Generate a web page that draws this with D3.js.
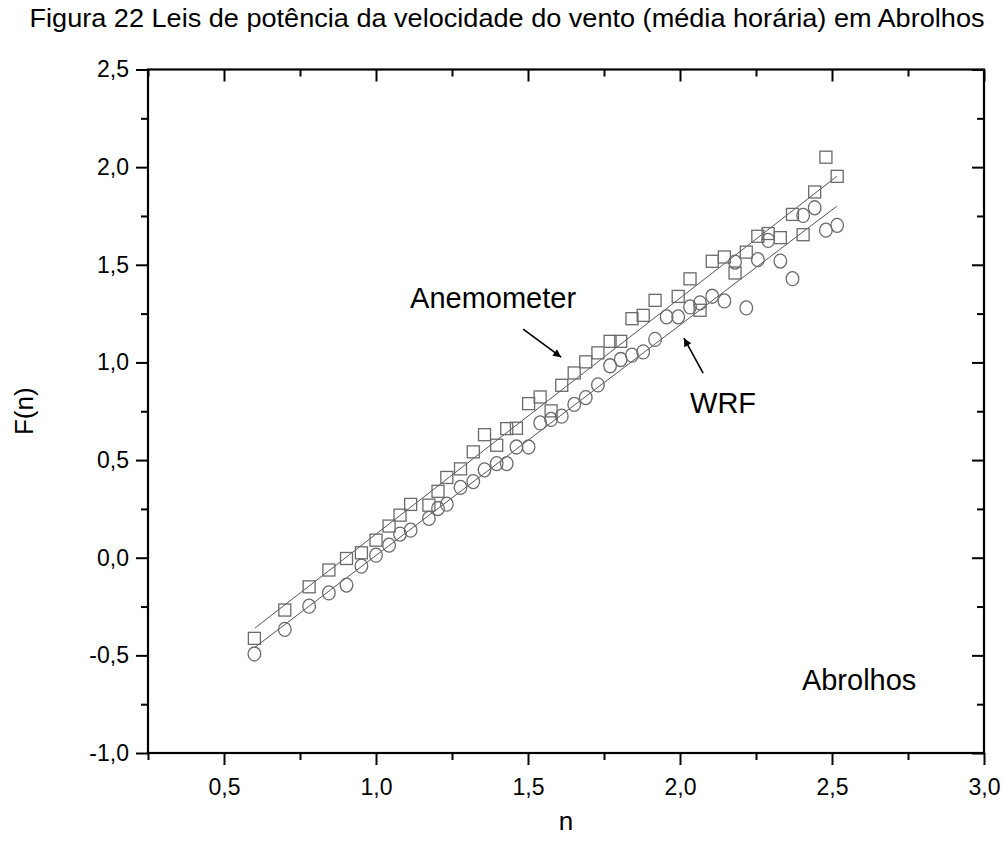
<!DOCTYPE html>
<meta charset="utf-8">
<script src="https://d3js.org/d3.v7.min.js"></script>
<body>
<style>
  html, body { margin: 0; background: white; }
  text { font-family: "Liberation Sans", Arial, sans-serif; fill: #000; }
</style>
<svg width="1003" height="852"></svg>
<script>
// n values (log scale) shared by both series
var nValues = [0.60, 0.70, 0.78, 0.845, 0.903, 0.952, 1.00, 1.043, 1.079, 1.114, 1.174, 1.204, 1.233, 1.278,
  1.32, 1.357, 1.397, 1.43, 1.462, 1.502, 1.54, 1.576, 1.611, 1.652, 1.69, 1.73, 1.77, 1.805, 1.842, 1.879,
  1.918, 1.956, 1.994, 2.033, 2.066, 2.106, 2.146, 2.181, 2.218, 2.256, 2.29, 2.33, 2.37, 2.405, 2.443, 2.48, 2.517];

// Anemometer F(n) (null = no point)
var anemometer = [-0.413, -0.268, -0.149, -0.063, -0.004, 0.025, 0.09, 0.162, 0.218, 0.273, 0.269, 0.34, 0.411, 0.455,
  0.542, 0.63, 0.576, 0.661, 0.663, 0.789, 0.823, 0.752, 0.883, 0.946, 1.003, 1.049, 1.108, 1.108, 1.224, 1.241,
  1.318, null, 1.338, 1.428, 1.267, 1.518, 1.54, 1.458, 1.565, 1.646, 1.66, 1.639, 1.758, 1.654, 1.873, 2.051, 1.953];

// WRF F(n)
var wrf = [-0.493, -0.367, -0.248, -0.18, -0.14, -0.043, 0.013, 0.064, 0.121, 0.141, 0.201, 0.252, 0.274, 0.36,
  0.39, 0.45, 0.482, 0.482, 0.567, 0.567, 0.69, 0.708, 0.725, 0.785, 0.82, 0.885, 0.983, 1.015, 1.037, 1.054,
  1.118, 1.233, 1.233, 1.284, 1.305, 1.339, 1.315, 1.514, 1.279, 1.526, 1.625, 1.519, 1.429, 1.753, 1.792, 1.677, 1.702];

// linear fits (end points)
var fitN = [0.602, 2.516];
var fitAnemometer = [-0.36, 1.953];
var fitWrf = [-0.458, 1.80];

var xTicks = [0.5, 1.0, 1.5, 2.0, 2.5, 3.0];
var xMinor = [0.25, 0.75, 1.25, 1.75, 2.25, 2.75];
var yTicks = [-1.0, -0.5, 0.0, 0.5, 1.0, 1.5, 2.0, 2.5];
var yMinor = [-0.75, -0.25, 0.25, 0.75, 1.25, 1.75, 2.25];

var titleText = "Figura 22 Leis de potência da velocidade do vento (média horária) em Abrolhos";
var labels = [
  { text: "Anemometer", n: 1.112, f: 1.277 },
  { text: "WRF", n: 2.033, f: 0.74 },
  { text: "Abrolhos", n: 2.401, f: -0.678 }
];
var arrows = [
  { n1: 1.484, f1: 1.17, n2: 1.609, f2: 1.027 },
  { n1: 2.076, f1: 0.945, n2: 2.013, f2: 1.124 }
];

var L = 148, R = 984, T = 69.5, B = 753;
var x = d3.scaleLinear().domain([0.25, 3.0]).range([L, R]);
var y = d3.scaleLinear().domain([-1.0, 2.5]).range([B, T]);
var fmt = function (d) { return d3.format(".1f")(d).replace(".", ",").replace("−", "-"); };

var svg = d3.select("svg");

svg.append("text").attr("x", 507).attr("y", 27).attr("text-anchor", "middle")
  .attr("font-size", 25).attr("textLength", 955).attr("lengthAdjust", "spacingAndGlyphs")
  .text(titleText);

// fit lines
var fits = [[fitN, fitAnemometer], [fitN, fitWrf]];
svg.selectAll(".fit").data(fits).enter().append("line").attr("class", "fit")
  .attr("x1", function (d) { return x(d[0][0]); }).attr("y1", function (d) { return y(d[1][0]); })
  .attr("x2", function (d) { return x(d[0][1]); }).attr("y2", function (d) { return y(d[1][1]); })
  .attr("stroke", "#555").attr("stroke-width", 1);

var markColor = "#6a6a6a";
var sq = 12;
var sqData = nValues.map(function (n, i) { return { n: n, f: anemometer[i] }; }).filter(function (d) { return d.f !== null; });
var ciData = nValues.map(function (n, i) { return { n: n, f: wrf[i] }; });

svg.selectAll(".sq").data(sqData).enter().append("rect").attr("class", "sq")
  .attr("x", function (d) { return x(d.n) - sq / 2; }).attr("y", function (d) { return y(d.f) - sq / 2; })
  .attr("width", sq).attr("height", sq)
  .attr("fill", "none").attr("stroke", markColor).attr("stroke-width", 1.3);

svg.selectAll(".ci").data(ciData).enter().append("ellipse").attr("class", "ci")
  .attr("cx", function (d) { return x(d.n); }).attr("cy", function (d) { return y(d.f); })
  .attr("rx", 6.3).attr("ry", 7)
  .attr("fill", "none").attr("stroke", markColor).attr("stroke-width", 1.3);

// axes
function styleAxis(g) {
  g.select(".domain").remove();
  g.selectAll("line").attr("stroke", "#000").attr("stroke-width", 2);
  g.selectAll("text").attr("font-size", 23).attr("fill", "#000")
    .attr("font-family", "'Liberation Sans', Arial, sans-serif");
}
svg.append("g").attr("transform", "translate(0," + B + ")")
  .call(d3.axisBottom(x).tickValues(xTicks).tickSize(12).tickPadding(14).tickFormat(fmt)).call(styleAxis);
svg.append("g").attr("transform", "translate(0," + B + ")")
  .call(d3.axisBottom(x).tickValues(xMinor).tickSize(7).tickFormat("")).call(styleAxis);
svg.append("g").attr("transform", "translate(0," + T + ")")
  .call(d3.axisBottom(x).tickValues(xTicks).tickSize(12).tickFormat("")).call(styleAxis);
svg.append("g").attr("transform", "translate(0," + T + ")")
  .call(d3.axisBottom(x).tickValues(xMinor).tickSize(7).tickFormat("")).call(styleAxis);
svg.append("g").attr("transform", "translate(" + L + ",0)")
  .call(d3.axisLeft(y).tickValues(yTicks).tickSize(12).tickPadding(7).tickFormat(fmt)).call(styleAxis);
svg.append("g").attr("transform", "translate(" + L + ",0)")
  .call(d3.axisLeft(y).tickValues(yMinor).tickSize(7).tickFormat("")).call(styleAxis);
svg.append("g").attr("transform", "translate(" + R + ",0)")
  .call(d3.axisLeft(y).tickValues(yTicks).tickSize(12).tickFormat("")).call(styleAxis);
svg.append("g").attr("transform", "translate(" + R + ",0)")
  .call(d3.axisLeft(y).tickValues(yMinor).tickSize(7).tickFormat("")).call(styleAxis);

svg.append("rect").attr("x", L).attr("y", T).attr("width", R - L).attr("height", B - T)
  .attr("fill", "none").attr("stroke", "#000").attr("stroke-width", 2.2);

// axis titles
svg.append("text").attr("transform", "translate(33," + ((T + B) / 2) + ") rotate(-90)")
  .attr("text-anchor", "middle").attr("font-size", 26).text("F(n)");
svg.append("text").attr("x", (L + R) / 2).attr("y", 830).attr("text-anchor", "middle")
  .attr("font-size", 26).text("n");

// annotations
svg.append("defs").append("marker").attr("id", "head").attr("viewBox", "0 0 10 10")
  .attr("refX", 10).attr("refY", 5).attr("markerWidth", 11).attr("markerHeight", 8)
  .attr("markerUnits", "userSpaceOnUse").attr("orient", "auto")
  .append("path").attr("d", "M0,0 L10,5 L0,10 Z").attr("fill", "#000");

svg.selectAll(".arrow").data(arrows).enter().append("line").attr("class", "arrow")
  .attr("x1", function (d) { return x(d.n1); }).attr("y1", function (d) { return y(d.f1); })
  .attr("x2", function (d) { return x(d.n2); }).attr("y2", function (d) { return y(d.f2); })
  .attr("stroke", "#000").attr("stroke-width", 1.6).attr("marker-end", "url(#head)");

svg.selectAll(".lab").data(labels).enter().append("text").attr("class", "lab")
  .attr("x", function (d) { return x(d.n); }).attr("y", function (d) { return y(d.f); })
  .attr("font-size", 29).text(function (d) { return d.text; });
</script>
</body>
